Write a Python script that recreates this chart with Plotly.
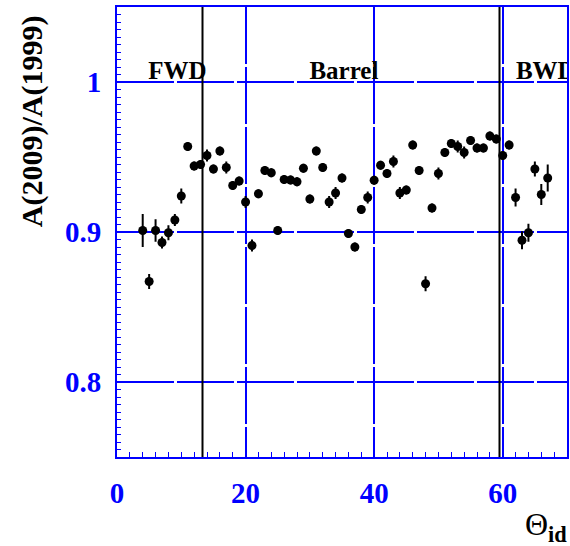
import plotly.graph_objects as go

theta_id = [4, 5, 6, 7, 8, 9, 10, 11, 12, 13, 14, 15, 16, 17, 18, 19, 20, 21, 22, 23,
            24, 25, 26, 27, 28, 29, 30, 31, 32, 33, 34, 35, 36, 37, 38, 39, 40, 41, 42,
            43, 44, 45, 46, 47, 48, 49, 50, 51, 52, 53, 54, 55, 56, 57, 58, 59, 60, 61,
            62, 63, 64, 65, 66, 67]
ratio = [0.901, 0.867, 0.901, 0.893, 0.8995, 0.908, 0.924, 0.957, 0.944, 0.945,
         0.951, 0.942, 0.954, 0.943, 0.931, 0.934, 0.920, 0.891, 0.9255, 0.941,
         0.9395, 0.901, 0.935, 0.9347, 0.9335, 0.9425, 0.922, 0.954, 0.943, 0.920,
         0.926, 0.936, 0.899, 0.890, 0.915, 0.923, 0.9345, 0.9445, 0.939, 0.947,
         0.926, 0.928, 0.958, 0.941, 0.8655, 0.916, 0.939, 0.953, 0.959, 0.957,
         0.953, 0.961, 0.956, 0.956, 0.964, 0.962, 0.951, 0.958, 0.923, 0.8945,
         0.8995, 0.942, 0.925, 0.936]
ratio_err = [0.011, 0.005, 0.0075, 0.004, 0.005, 0.004, 0.005, 0.003, 0.003, 0.003,
             0.004, 0.003, 0.003, 0.004, 0.003, 0.003, 0.004, 0.004, 0.003, 0.003,
             0.003, 0.003, 0.003, 0.003, 0.003, 0.003, 0.003, 0.003, 0.003, 0.004,
             0.004, 0.003, 0.003, 0.003, 0.003, 0.004, 0.003, 0.003, 0.003, 0.004,
             0.004, 0.003, 0.003, 0.003, 0.005, 0.003, 0.004, 0.003, 0.003, 0.004,
             0.004, 0.003, 0.003, 0.003, 0.003, 0.003, 0.003, 0.003, 0.006, 0.006,
             0.006, 0.005, 0.007, 0.009]

region_labels = ["FWD", "Barrel", "BWD"]
region_label_x = [9.4, 35.3, 66.7]
region_label_y = [1.006, 1.006, 1.006]
region_bounds = [13.3, 59.5]

y_tickvals = [0.8, 0.9, 1.0]
y_ticktext = ["0.8", "0.9", "1"]
x_tickvals = [0, 20, 40, 60]

BLUE = "#0000ff"
SERIF = "Liberation Serif, Times New Roman, serif"

fig = go.Figure()

fig.add_trace(go.Scatter(
    x=theta_id, y=ratio,
    mode="markers",
    marker=dict(color="black", size=9, symbol="circle"),
    error_y=dict(type="data", array=ratio_err, color="black", thickness=2, width=0),
    showlegend=False, cliponaxis=True,
))

fig.add_trace(go.Scatter(
    x=region_label_x, y=region_label_y, text=region_labels,
    mode="text", textposition="middle center",
    textfont=dict(family=SERIF, size=25, color="black", weight="bold"),
    showlegend=False, cliponaxis=True, hoverinfo="skip",
))

for xb in region_bounds:
    fig.add_shape(type="line", x0=xb, x1=xb, y0=0, y1=1, xref="x", yref="paper",
                  line=dict(color="black", width=2), layer="above")

fig.update_xaxes(
    range=[0, 70], tickvals=x_tickvals, automargin=False,
    showgrid=True, gridcolor=BLUE, gridwidth=2, griddash="57px,3px",
    showline=True, linecolor=BLUE, linewidth=2, mirror=True,
    ticks="inside", ticklen=10, tickcolor=BLUE, tickwidth=1,
    minor=dict(dtick=2, ticks="inside", ticklen=5, tickcolor=BLUE, showgrid=False),
    tickfont=dict(family=SERIF, size=29, color=BLUE, weight="bold"),
    ticklabelstandoff=9,
    zeroline=False,
)
fig.update_yaxes(
    range=[0.75, 1.05], tickvals=y_tickvals, ticktext=y_ticktext, automargin=False,
    showgrid=True, gridcolor=BLUE, gridwidth=2, griddash="57px,3px",
    showline=True, linecolor=BLUE, linewidth=2, mirror=True,
    ticks="inside", ticklen=10, tickcolor=BLUE, tickwidth=1,
    minor=dict(dtick=0.005, ticks="inside", ticklen=4, tickcolor=BLUE, showgrid=False),
    tickfont=dict(family=SERIF, size=29, color=BLUE, weight="bold"),
    ticklabelstandoff=8,
    zeroline=False,
)

fig.add_annotation(
    text="A(2009)/A(1999)", xref="paper", yref="paper", x=-0.19, y=0.745,
    xanchor="center", yanchor="middle", textangle=-90, showarrow=False,
    font=dict(family=SERIF, size=30, color="black", weight="bold"),
)

fig.add_annotation(
    text="Θ<sub><b>id</b></sub>", xref="paper", yref="paper", x=1.0, y=0,
    xanchor="right", yanchor="top", xshift=2, yshift=-47, showarrow=False,
    font=dict(family=SERIF, size=32, color="black"),
)

fig.update_layout(
    width=570, height=546,
    margin=dict(l=117, r=3, t=7, b=89),
    plot_bgcolor="white", paper_bgcolor="white",
)

fig.write_html("out.html", config={"displayModeBar": False},
               post_script="document.body.style.margin='0';document.body.style.overflow='hidden';")
